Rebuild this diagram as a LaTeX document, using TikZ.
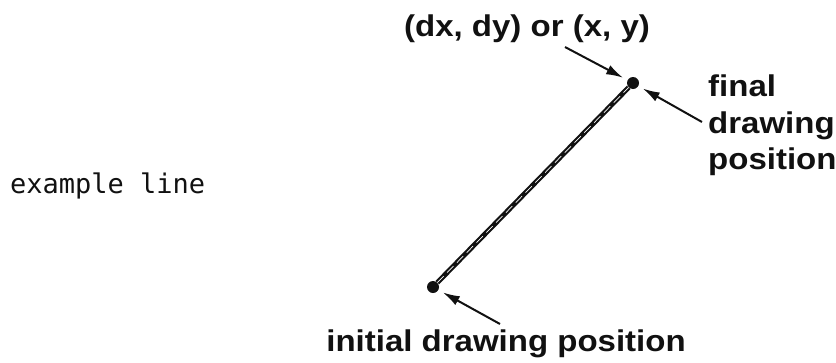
\documentclass[tikz,border=0pt]{standalone}
\usepackage{fontspec}
\newfontfamily\labelfont[FakeStretch=1.1]{Liberation Sans}
\newfontfamily\termfont{DejaVu Sans Mono}
\usepackage{xcolor}
\definecolor{ink}{HTML}{111111}
\usepackage{tikz}
\usetikzlibrary{arrows.meta,positioning}

\begin{document}
\begin{tikzpicture}[x=1pt,y=-1pt,every node/.style={inner sep=0pt,text=ink}]
\tikzstyle{callout}=[font=\labelfont\bfseries\fontsize{30}{36.5}\selectfont]
\tikzstyle{dotpt}=[circle,fill=ink,minimum size=12pt]
\tikzstyle{ptr}=[-{Latex[length=17pt,width=10pt]},line width=2pt,ink,shorten >=5pt]
\tikzstyle{rod}=[line width=5pt,ink]
\useasboundingbox (0,0) rectangle (836,362);
% the two end points
\node[dotpt] (ini) at (433,287) {};
\node[dotpt] (fin) at (633,83) {};
\draw[rod] (ini) -- (fin);
\draw[white,line width=0.7pt,dash pattern=on 9pt off 5pt] (ini) -- (fin);
% labels
\node[callout,anchor=base] (target) at (527,36) {(dx, dy) or (x, y)};
\node[callout,anchor=north west,align=left] (finlab) at (708,75) {final\\drawing\\position};
\node[callout,anchor=base] (inilab) at (506,351) {initial drawing position};
\node[font=\termfont\fontsize{27}{28}\selectfont,anchor=base west] (ex) at (10,193) {example line};
% pointers
\coordinate (ta) at (565,47);
\coordinate (fa) at (702,122);
\coordinate (ia) at (500,324);
\draw[ptr] (ta) -- (fin);
\draw[ptr] (fa) -- (fin);
\draw[ptr] (ia) -- (ini);
\end{tikzpicture}
\end{document}
